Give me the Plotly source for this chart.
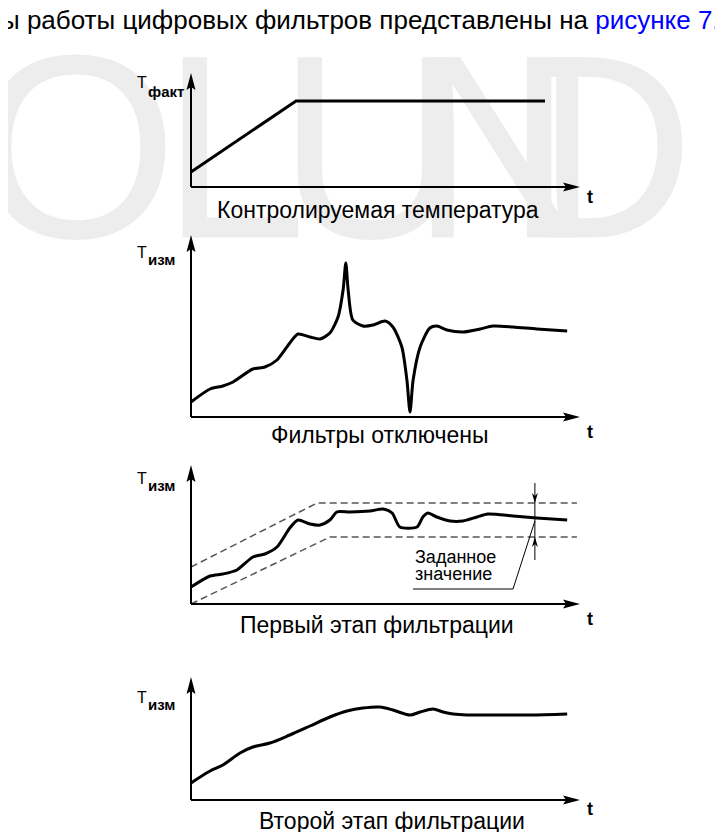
import plotly.graph_objects as go

# ---------------- data (t in % of time axis, T in relative units) ----------------
t_fact = [0, 27, 91]
T_fact = [15, 86, 86]

t_off = [0, 4.9, 8.2, 10.8, 15.9, 19.0, 22.1, 25.4, 27.5, 30.6, 33.2, 35.7, 37.8, 39.1, 39.8,
         40.4, 41.6, 44.2, 46.8, 49.9, 51.9, 54.2, 55.5, 56.3, 57.1, 58.9, 61.4, 63.2, 65.8,
         69.9, 74.3, 77.6, 82.8, 88.9, 96.7]
T_off = [15, 28, 31, 35, 48, 50, 57, 74, 83, 80, 78, 84, 100, 127, 154,
         127, 97, 91, 92, 96, 90, 70, 37, 5, 37, 70, 89, 91, 87,
         85, 88, 91, 90, 88, 86]

t_stage1 = [0, 4.9, 8.2, 11.8, 15.9, 19.0, 22.1, 25.4, 27.5, 30.6, 33.2, 35.7, 37.5, 40.9,
            46.0, 49.4, 51.7, 53.7, 58.1, 59.6, 60.9, 63.2, 66.6, 69.9, 73.5, 76.3, 82.8,
            88.9, 96.7]
T_stage1 = [17, 28, 30, 34, 47, 50, 57, 76, 84, 80, 79, 84, 92, 92,
            93, 95, 91, 77, 77, 87, 91, 87, 83, 83, 87, 90, 88,
            86, 84]

band_upper_t = [0, 32.4, 99.2]
band_upper_T = [37, 101, 101]
band_lower_t = [0, 35.7, 99.2]
band_lower_T = [0, 67, 67]
setpoint_t = 88.4

t_stage2 = [0, 4.9, 8.2, 12.6, 15.9, 20.3, 25.4, 30.6, 35.7, 40.1, 44.2, 48.6, 51.9, 56.3,
            58.9, 62.2, 64.8, 67.4, 71.0, 78.7, 87.1, 96.7]
T_stage2 = [17, 29, 35, 47, 53, 57, 65, 74, 83, 89, 92, 93, 90, 85,
            88, 91, 88, 86, 85, 85, 85, 86]

titles = ["Контролируемая температура", "Фильтры отключены",
          "Первый этап фильтрации", "Второй этап фильтрации"]
y_subs = ["факт", "изм", "изм", "изм"]
x_label = "t"
header_black = "ы работы цифровых фильтров представлены на "
header_link = "рисунке 7."
setpoint_lines = ["Заданное", "значение"]
watermark_letters = ["O", "L", "U", "N", "D", "A"]

# ---------------- layout geometry (reference pixels) ----------------
RW, RH = 723, 832          # reference picture size
OFF = 8                    # page body margin
W, H = RW - OFF, RH - OFF  # figure size
X0, XS = 191.0, 3.89       # reference pixel of t=0, pixels per t unit
FONT = "Liberation Sans, Arial, sans-serif"


def tx(px):
    return (px - X0) / XS


panels = [
    dict(axis=187, top=OFF, bottom=225, tip=73, title_y=209.5, t_y=197, T_top=77, T_base=87, sub_base=96),
    dict(axis=417, top=225, bottom=450, tip=235, title_y=435, t_y=432, T_top=247, T_base=257, sub_base=264),
    dict(axis=604, top=450, bottom=640, tip=465, title_y=625, t_y=619, T_top=473, T_base=483, sub_base=490),
    dict(axis=800, top=640, bottom=RH, tip=677, title_y=821, t_y=809, T_top=692, T_base=702, sub_base=709),
]
title_x = [378, 380, 377, 392]

fig = go.Figure()
layout = dict(
    width=W, height=H, autosize=False,
    margin=dict(l=0, r=0, t=0, b=0, pad=0),
    paper_bgcolor="white", plot_bgcolor="rgba(255,255,255,0)",
    showlegend=False,
    xaxis=dict(domain=[0, 1], range=[tx(OFF), tx(RW)], visible=False, fixedrange=True),
    # full-page axis used only for the background watermark (reference pixel rows, downwards)
    yaxis=dict(domain=[0, 1], range=[RH, OFF], visible=False, fixedrange=True, anchor="x"),
)
shapes = []
annotations = []

for i, p in enumerate(panels):
    yname = f"yaxis{i + 2}"
    yref = f"y{i + 2}"
    p["yref"] = yref
    layout[yname] = dict(
        domain=[(RH - p["bottom"]) / H, (RH - p["top"]) / H],
        range=[p["axis"] - p["bottom"], p["axis"] - p["top"]],
        visible=False, fixedrange=True, anchor="x",
    )

    def ty(py, p=p):
        return p["axis"] - py

    xend = tx(580)
    ytop = ty(p["tip"])
    shapes.append(dict(type="line", xref="x", yref=yref, x0=0, y0=0, x1=xend - 8 / XS, y1=0,
                       line=dict(color="black", width=2)))
    shapes.append(dict(type="line", xref="x", yref=yref, x0=0, y0=0, x1=0, y1=ytop - 8,
                       line=dict(color="black", width=2)))
    L, hw, notch = 17, 4.5, 3
    shapes.append(dict(type="path", xref="x", yref=yref, fillcolor="black", line=dict(width=0),
                       path=f"M{xend},0 L{xend - L / XS},{hw} L{xend - (L - notch) / XS},0 "
                            f"L{xend - L / XS},{-hw} Z"))
    shapes.append(dict(type="path", xref="x", yref=yref, fillcolor="black", line=dict(width=0),
                       path=f"M0,{ytop} L{-hw / XS},{ytop - L} L0,{ytop - L + notch} "
                            f"L{hw / XS},{ytop - L} Z"))

    annotations.append(dict(xref="x", yref=yref, x=tx(title_x[i]), y=ty(p["title_y"]),
                            text=titles[i], showarrow=False, xanchor="center", yanchor="middle",
                            font=dict(family=FONT, size=23, color="black")))
    annotations.append(dict(xref="x", yref=yref, x=tx(590), y=ty(p["t_y"]),
                            text=f"<b>{x_label}</b>", showarrow=False, xanchor="center",
                            yanchor="middle", font=dict(family=FONT, size=18, color="black")))
    annotations.append(dict(xref="x", yref=yref, x=tx(136), y=ty((p["T_top"] + p["T_base"]) / 2),
                            text="Т", showarrow=False, xanchor="left", yanchor="middle",
                            borderpad=0, font=dict(family=FONT, size=16, color="black")))
    annotations.append(dict(xref="x", yref=yref, x=tx(147), y=ty(p["sub_base"] - 5),
                            text=f"<b>{y_subs[i]}</b>", showarrow=False, xanchor="left",
                            yanchor="middle", borderpad=0,
                            font=dict(family=FONT, size=15, color="black")))

# watermark letters (first subplot -> drawn below everything)
wm_x = [76, 234, 372, 505, 600, 738]
fig.add_trace(go.Scatter(x=[tx(v) for v in wm_x], y=[172] * len(wm_x), xaxis="x", yaxis="y",
                         mode="text", text=watermark_letters, cliponaxis=False, hoverinfo="skip",
                         textfont=dict(family=FONT, size=262, color="#ededed")))

fig.add_trace(go.Scatter(x=t_fact, y=T_fact, xaxis="x", yaxis=panels[0]["yref"], mode="lines",
                         line=dict(color="black", width=3), hoverinfo="skip"))
fig.add_trace(go.Scatter(x=t_off, y=T_off, xaxis="x", yaxis=panels[1]["yref"], mode="lines",
                         line=dict(color="black", width=3, shape="spline", smoothing=0.7),
                         hoverinfo="skip"))
dash = dict(color="#555555", width=1.5, dash="7px,4px")
y3 = panels[2]["yref"]
fig.add_trace(go.Scatter(x=band_upper_t, y=band_upper_T, xaxis="x", yaxis=y3, mode="lines",
                         line=dash, hoverinfo="skip"))
fig.add_trace(go.Scatter(x=band_lower_t, y=band_lower_T, xaxis="x", yaxis=y3, mode="lines",
                         line=dash, hoverinfo="skip"))
fig.add_trace(go.Scatter(x=t_stage1, y=T_stage1, xaxis="x", yaxis=y3, mode="lines",
                         line=dict(color="black", width=3, shape="spline", smoothing=0.7),
                         hoverinfo="skip"))
fig.add_trace(go.Scatter(x=t_stage2, y=T_stage2, xaxis="x", yaxis=panels[3]["yref"], mode="lines",
                         line=dict(color="black", width=3, shape="spline", smoothing=0.9),
                         hoverinfo="skip"))

# set-point tolerance marker (panel 3)
ax3 = panels[2]["axis"]
up_T = band_upper_T[-1]
lo_T = band_lower_T[-1]
shapes.append(dict(type="line", xref="x", yref=y3, x0=setpoint_t, x1=setpoint_t,
                   y0=ax3 - 483, y1=ax3 - 560, line=dict(color="black", width=1)))
sl, sw = 10, 3
shapes.append(dict(type="path", xref="x", yref=y3, fillcolor="black", line=dict(width=0),
                   path=f"M{setpoint_t},{up_T} L{setpoint_t - sw / XS},{up_T + sl} "
                        f"L{setpoint_t},{up_T + sl - 3} L{setpoint_t + sw / XS},{up_T + sl} Z"))
shapes.append(dict(type="path", xref="x", yref=y3, fillcolor="black", line=dict(width=0),
                   path=f"M{setpoint_t},{lo_T} L{setpoint_t - sw / XS},{lo_T - sl} "
                        f"L{setpoint_t},{lo_T - sl + 3} L{setpoint_t + sw / XS},{lo_T - sl} Z"))
shapes.append(dict(type="path", xref="x", yref=y3, line=dict(color="black", width=1),
                   path=f"M{setpoint_t},{ax3 - 521} L{tx(513)},{ax3 - 589} L{tx(413)},{ax3 - 589}"))
for k, (line_txt, base) in enumerate(zip(setpoint_lines, [563, 580])):
    annotations.append(dict(xref="x", yref=y3, x=tx(414), y=ax3 - (base - 6.3), text=line_txt,
                            showarrow=False, xanchor="left", yanchor="middle", borderpad=0,
                            font=dict(family=FONT, size=18, color="black")))

# header line
annotations.append(dict(xref="paper", yref="paper", x=(722 - OFF) / W, y=(RH - 19.5) / H,
                        text=f"{header_black}<span style='color:#0000ff'>{header_link}</span>",
                        showarrow=False, xanchor="right", yanchor="middle",
                        font=dict(family=FONT, size=26, color="black")))

layout["shapes"] = shapes
layout["annotations"] = annotations
fig.update_layout(**layout)
fig.write_html("out.html")
